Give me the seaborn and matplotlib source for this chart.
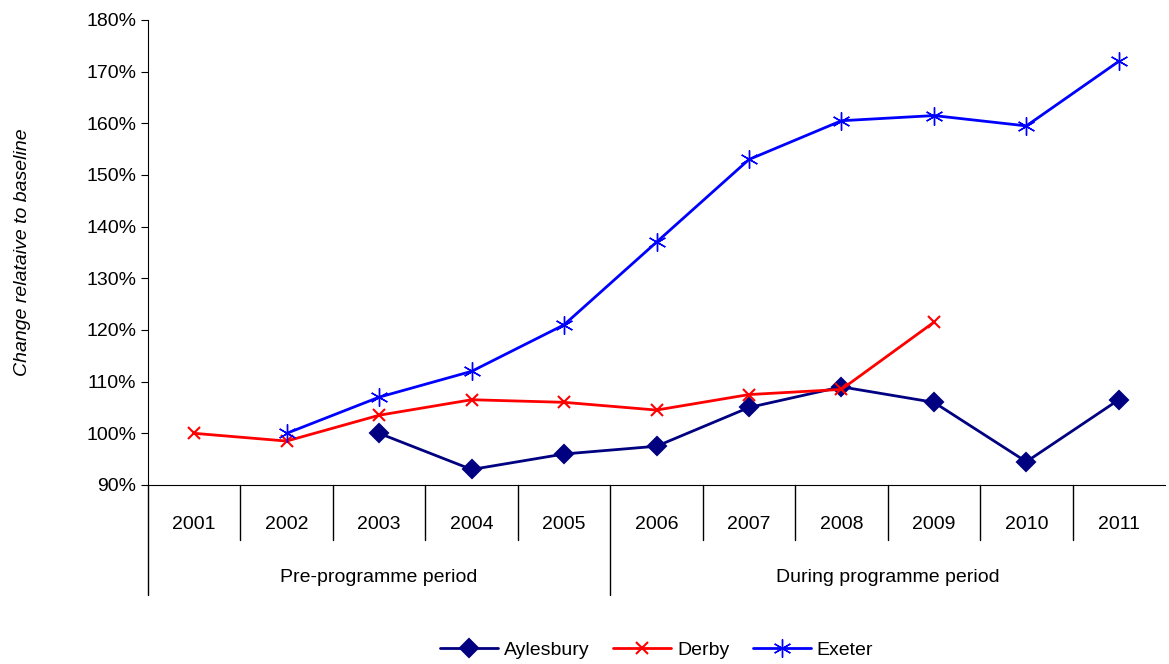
import pandas as pd
import seaborn as sns
import matplotlib.pyplot as plt
from matplotlib.ticker import PercentFormatter

years = ["2001", "2002", "2003", "2004", "2005", "2006", "2007", "2008", "2009", "2010", "2011"]
aylesbury = [None, None, 100, 93, 96, 97.5, 105, 109, 106, 94.5, 106.5]
derby = [100, 98.5, 103.5, 106.5, 106, 104.5, 107.5, 108.5, 121.5, None, None]
exeter = [None, 100, 107, 112, 121, 137, 153, 160.5, 161.5, 159.5, 172]
groups = ["Pre-programme period", "During programme period"]

sns.set_style("white")
plt.rcParams["font.family"] = ["Liberation Sans", "DejaVu Sans"]
plt.rcParams["text.color"] = "black"
plt.rcParams["axes.labelcolor"] = "black"
plt.rcParams["ytick.color"] = "black"

df = pd.DataFrame({"pos": range(1, 12), "Aylesbury": aylesbury, "Derby": derby, "Exeter": exeter})

fig = plt.figure(figsize=(11.69, 6.64), dpi=100)
ax = fig.add_axes([0.1266, 0.2696, 0.87, 0.7003])

styles = {"Aylesbury": ("#000080", "D", 9, 1.5), "Derby": ("#FF0000", "x", 9, 1.5), "Exeter": ("#0000FF", (6, 2, 0), 13, 1.0)}
for name, (c, m, ms, mew) in styles.items():
    d = df.dropna(subset=[name])
    sns.lineplot(data=d, x="pos", y=name, ax=ax, color=c, marker=m, markersize=ms,
                 markeredgecolor=c, markeredgewidth=mew, linewidth=2, label=name)

ax.set_xlim(0.5, 11.5)
ax.set_ylim(90, 180)
ax.set_yticks(range(90, 181, 10))
ax.yaxis.set_major_formatter(PercentFormatter(decimals=0))
ax.tick_params(axis="y", labelsize=14, left=True, length=5, direction="out")
ax.set_xticks([])
ax.set_xlabel("")
ax.set_ylabel("Change relataive to baseline", fontsize=14, style="italic", labelpad=40)
for s in ["top", "right"]:
    ax.spines[s].set_visible(False)
for s in ["left", "bottom"]:
    ax.spines[s].set_color("black")

for i, y in enumerate(years):
    ax.text(i + 1, -0.085, y, transform=ax.get_xaxis_transform(), ha="center", va="center", fontsize=14)
for x in [1.5, 2.5, 3.5, 4.5, 6.5, 7.5, 8.5, 9.5, 10.5]:
    ax.plot([x, x], [0, -0.118], transform=ax.get_xaxis_transform(), color="black", lw=1, clip_on=False)
for x in [0.5, 5.5]:
    ax.plot([x, x], [0, -0.237], transform=ax.get_xaxis_transform(), color="black", lw=1, clip_on=False)
ax.text(3, -0.2, groups[0], transform=ax.get_xaxis_transform(), ha="center", va="center", fontsize=14)
ax.text(8.5, -0.2, groups[1], transform=ax.get_xaxis_transform(), ha="center", va="center", fontsize=14)

ax.legend(loc="center", bbox_to_anchor=(0.5, -0.355), ncol=3, frameon=False, fontsize=14,
          handlelength=3, columnspacing=1.2, handletextpad=0.3)

fig.savefig("out.png", dpi=100)
